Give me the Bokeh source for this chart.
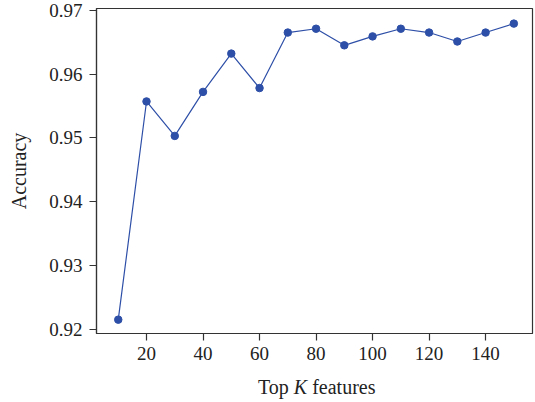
from bokeh.plotting import figure
from bokeh.models import Range1d, FixedTicker, NumeralTickFormatter, Div
from bokeh.layouts import column
from bokeh.embed import file_html
from bokeh.resources import INLINE

top_k = [10, 20, 30, 40, 50, 60, 70, 80, 90, 100, 110, 120, 130, 140, 150]
accuracy = [0.9215, 0.9557, 0.9503, 0.9572, 0.9632, 0.9578, 0.9665, 0.9671,
            0.9645, 0.9659, 0.9671, 0.9665, 0.9651, 0.9665, 0.9679]
x_ticks = [20, 40, 60, 80, 100, 120, 140]
y_ticks = [0.92, 0.93, 0.94, 0.95, 0.96, 0.97]

FONT = "Liberation Serif"
COLOR = "#2E4FA7"

p = figure(frame_width=436, frame_height=325, output_backend="svg", toolbar_location=None,
           x_range=Range1d(2.3, 156.6), y_range=Range1d(0.91933, 0.97027),
           min_border_left=96, min_border_right=3, min_border_top=8, min_border_bottom=35)

p.line(top_k, accuracy, line_color=COLOR, line_width=1.2)
p.scatter(top_k, accuracy, size=7.5, fill_color=COLOR, line_color=COLOR)

p.grid.visible = False
p.outline_line_color = "#333333"
p.outline_line_width = 1.2
p.background_fill_color = "white"
p.border_fill_color = "white"

for ax in (p.xaxis[0], p.yaxis[0]):
    ax.axis_line_color = "#333333"
    ax.axis_line_width = 1.2
    ax.major_tick_line_color = "#333333"
    ax.major_tick_line_width = 1.2
    ax.major_tick_out = 7
    ax.major_tick_in = 0
    ax.minor_tick_line_color = None
    ax.major_label_text_font = FONT
    ax.major_label_text_font_size = "19px"
    ax.major_label_text_color = "#222222"
    ax.axis_label_text_font = FONT
    ax.axis_label_text_font_size = "20px"
    ax.axis_label_text_font_style = "normal"
    ax.axis_label_text_color = "#222222"

p.xaxis.ticker = FixedTicker(ticks=x_ticks)
p.yaxis.ticker = FixedTicker(ticks=y_ticks)
p.yaxis.formatter = NumeralTickFormatter(format="0.00")
p.yaxis.axis_label = "Accuracy"
p.yaxis.major_label_standoff = 7
p.yaxis.axis_label_standoff = 16
p.xaxis.major_label_standoff = 6

xlabel = Div(text="Top <i>K</i> features", width=535, height=32,
             styles={"font-family": FONT, "font-size": "20px", "color": "#222222",
                     "padding-left": "253px", "padding-top": "2px",
                     "line-height": "24px", "box-sizing": "border-box"})

layout = column(p, xlabel, spacing=0)

open("out.html", "w").write(file_html(layout, INLINE))
